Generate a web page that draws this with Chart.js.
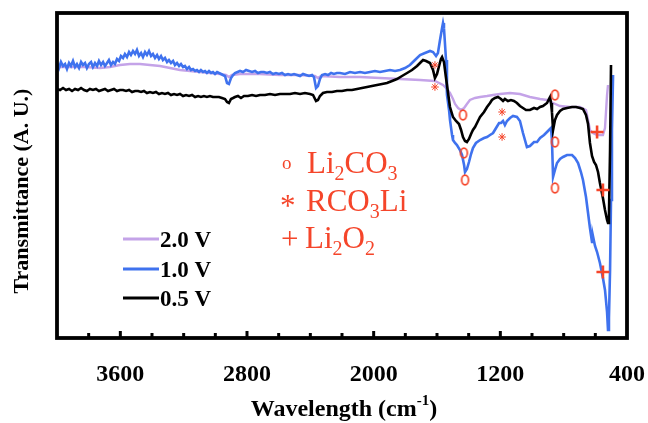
<!DOCTYPE html>
<html>
<head>
<meta charset="utf-8">
<script src="https://cdn.jsdelivr.net/npm/chart.js@4.4.1/dist/chart.umd.min.js"></script>
<style>
html, body { margin: 0; padding: 0; background: #fff; }
</style>
</head>
<body>
<canvas id="chart" width="648" height="423"></canvas>
<script>
// Spektra FTIR (wavenumber cm-1, transmittance A.U.)
const blueWn = [4000,3987,3975,3962,3949,3937,3924,3912,3899,3886,3874,3861,3848,3836,3823,3811,3798,3785,3773,3760,
  3747,3735,3722,3709,3697,3684,3672,3659,3646,3634,3621,3608,3596,3583,3571,3558,3545,3533,3520,3507,
  3495,3482,3469,3457,3444,3432,3419,3406,3394,3381,3368,3356,3343,3331,3318,3305,3293,3280,3267,3255,
  3242,3229,3217,3204,3192,3179,3166,3154,3141,3128,3116,3103,3091,3078,3065,3053,3040,3027,3015,3002,
  2989,2977,2964,2952,2939,2926,2914,2901,2888,2876,
  2844,2825,2806,2787,2768,2749,2731,2712,2693,2674,2655,2636,2617,2598,2579,2560,2541,2522,2503,2484,
  2465,2446,2427,2408,2389,2377,2364,2352,2339,2326,2307,2288,2269,2251,2232,2213,2181,2149,2118,2086,
  2055,2023,1992,1960,1928,1897,1865,1834,1802,1771,1739,1707,1676,1644,1625,1606,1594,1581,1568,1562,
  1556,1543,1537,1524,1518,1505,1499,1486,1474,1455,1442,1429,1423,1411,1398,1385,1373,1354,1328,1303,
  1284,1265,1246,1227,1208,1196,1183,1171,1158,1139,1120,1095,1076,1057,1032,1013,987,968,949,924,
  899,880,874,867,855,842,823,804,779,747,728,709,691,678,659,646,634,621,615,602,
  589,571,552,539,526,520,514,507,501,495,488];
const blueVal = [275,270,276,272,274,269,275,272,277,271,274,270,276,273,275,270,274,276,271,275,
  272,277,273,276,272,275,278,273,276,274,279,277,282,280,284,281,286,283,287,284,
  288,282,285,281,286,283,287,282,284,280,283,279,282,278,280,276,278,275,277,273,
  275,272,274,271,272,269,271,268,269,267,268,266,268,266,267,265,267,265,266,264,
  266,265,264,263,262,255,254,260,263,265,
  267,266,268,267,266,267,265,266,266,265,266,264,265,264,265,263,264,263,264,263,
  262,264,263,262,263,261,250,252,259,263,264,263,265,264,265,265,264,266,265,266,
  265,266,267,266,267,268,267,268,270,273,278,283,285,287,286,282,285,298,310,315,
  310,278,243,228,218,203,198,195,193,188,183,173,166,169,176,184,190,195,198,200,
  201,203,205,210,215,215,217,213,217,220,222,221,217,205,191,192,196,196,200,203,
  207,210,198,161,168,175,179,181,183,183,180,175,166,158,141,125,110,96,102,92,
  86,75,60,48,26,8,20,68,138,208,263];

const blackWn = [4000,3981,3962,3943,3924,3905,3886,3867,3848,3829,3811,3792,3773,3754,3735,3716,3697,3678,3659,3640,
  3621,3602,3583,3564,3545,3526,3507,3488,3469,3451,3432,3413,3394,3375,3356,3337,3318,3299,3280,3261,
  3242,3223,3204,3185,3166,3147,3128,3109,3091,3072,3053,3034,3015,2996,2977,2958,2939,
  2926,2914,2901,2888,2876,2857,2838,2819,2794,2768,2743,2718,2686,2655,2623,2592,2560,2528,2497,2465,
  2434,2402,2383,2364,2352,2339,2320,2295,2263,2232,2200,2168,2137,2105,2074,2042,2011,1979,1947,1916,
  1884,1853,1821,1789,1758,1726,1701,1688,1669,1644,1625,1613,1600,1587,1575,1568,1556,1543,1531,1518,
  1499,1480,1461,1448,1436,1423,1411,1398,1385,1373,1360,1341,1328,1303,1284,1265,1253,1234,1215,1196,
  1183,1171,1152,1133,1114,1095,1076,1057,1038,1013,987,968,949,931,905,893,886,880,874,867,
  855,842,823,804,779,747,722,697,678,659,646,634,621,608,596,583,571,552,539,526,
  520,514,507,501];
const blackVal = [249,248,250,248,249,247,249,248,250,248,247,249,248,249,247,248,249,247,248,249,
  247,248,248,247,248,246,247,247,246,247,245,246,245,246,244,245,244,245,243,244,
  243,244,242,243,242,243,241,242,241,242,241,242,241,241,241,240,239,
  236,235,239,240,241,242,240,242,242,243,242,243,243,244,243,244,244,244,245,244,
  245,244,243,237,238,242,245,246,246,247,247,248,248,249,250,251,252,253,254,255,
  257,259,262,265,268,272,276,278,277,275,268,260,264,272,279,281,276,260,246,231,
  221,217,214,208,201,197,196,199,204,208,211,217,221,226,231,235,238,240,241,239,
  237,239,237,238,237,235,232,230,228,228,230,229,231,232,235,239,241,235,226,208,
  218,223,227,229,230,231,231,230,229,223,214,195,182,176,173,166,155,140,128,118,
  115,123,188,273];

const lilacWn = [4000,3918,3823,3728,3665,3602,3539,3476,3413,3349,3286,3223,3160,3097,3034,2971,2933,2914,2895,2844,
  2718,2592,2465,2371,2352,2333,2213,2086,1960,1834,1707,1613,1562,1537,1518,1499,1486,1467,1448,1429,
  1411,1392,1360,1328,1284,1246,1202,1139,1076,1013,949,905,867,823,760,697,659,646,634,615,
  589,552,539,526,520];
const lilacVal = [271,271,271,270,271,273,274,274,273,272,270,268,267,266,265,264,263,261,263,264,
  264,263,263,262,260,262,261,261,260,259,258,257,253,249,245,239,234,230,228,230,
  234,238,240,241,242,243,244,245,244,241,239,238,235,232,231,231,228,218,208,205,
  203,203,210,243,253];

// Znaczniki pasm
const circleWn = [1436, 1430, 1423, 855, 855, 855];
const circleVal = [223, 185, 158, 243, 196, 150];
const starWn = [1613, 1613, 1189, 1189];
const starVal = [273, 251, 226, 201];
const plusWn = [589, 552, 552];
const plusVal = [206, 148, 66];

const tickValues = [3600, 2800, 2000, 1200, 400];
const minorTicks = [3800, 3600, 3400, 3200, 3000, 2800, 2600, 2400, 2200, 2000, 1800, 1600, 1400, 1200, 1000, 800, 600];
const majorTicks = [3600, 2800, 2000, 1200];

const seriesLabels = ['2.0 V', '1.0 V', '0.5 V'];
const seriesColors = ['#c4a3e8', '#3f72ee', '#000000'];
const red = '#f5452a';

function pairs(xs, ys) {
    return xs.map((x, i) => ({ x: x, y: ys[i] }));
}

// Owal jako znacznik
const ovalImg = document.createElement('canvas');
ovalImg.width = 11;
ovalImg.height = 14;
const oc = ovalImg.getContext('2d');
oc.strokeStyle = red;
oc.lineWidth = 1.7;
oc.beginPath();
oc.ellipse(5.5, 7, 3.4, 4.9, 0, 0, Math.PI * 2);
oc.stroke();

function drawRich(ctx, parts, x, y, size) {
    for (const [txt, sub] of parts) {
        ctx.font = (sub ? Math.round(size * 0.66) : size) + 'px "Liberation Serif"';
        ctx.fillText(txt, x, sub ? y + 7 : y);
        x += ctx.measureText(txt).width;
    }
}

const decor = {
    id: 'decor',
    afterDraw(chart) {
        const { ctx, chartArea: a } = chart;
        const xs = chart.scales.x;
        ctx.save();

        // Ticki na dolnej ramce
        ctx.strokeStyle = '#000';
        ctx.lineWidth = 3;
        minorTicks.forEach(v => {
            const px = xs.getPixelForValue(v);
            const len = majorTicks.includes(v) ? 7 : 5;
            ctx.beginPath();
            ctx.moveTo(px, a.bottom);
            ctx.lineTo(px, a.bottom - len);
            ctx.stroke();
        });

        // Ramka
        ctx.lineWidth = 3.8;
        ctx.strokeRect(a.left, a.top, a.right - a.left, a.bottom - a.top);

        // Legenda
        const rowsY = [239, 269, 298];
        ctx.textBaseline = 'alphabetic';
        ctx.font = 'bold 23px "Liberation Serif"';
        seriesLabels.forEach((lab, i) => {
            ctx.strokeStyle = seriesColors[i];
            ctx.lineWidth = 3;
            ctx.beginPath();
            ctx.moveTo(123, rowsY[i]);
            ctx.lineTo(159, rowsY[i]);
            ctx.stroke();
            ctx.fillStyle = '#000';
            ctx.fillText(lab, 160, rowsY[i] + 8);
        });

        // Opisy pasm
        ctx.fillStyle = red;
        ctx.font = '19px "Liberation Serif"';
        ctx.fillText('o', 282, 169);
        ctx.font = '31px "Liberation Serif"';
        ctx.fillText('*', 280, 216);
        ctx.fillText('+', 281, 249);
        drawRich(ctx, [['Li', 0], ['2', 1], ['CO', 0], ['3', 1]], 307, 173, 31);
        drawRich(ctx, [['RCO', 0], ['3', 1], ['Li', 0]], 306, 211, 31);
        drawRich(ctx, [['Li', 0], ['2', 1], ['O', 0], ['2', 1]], 305, 248, 31);

        // Tytuly osi
        ctx.fillStyle = '#000';
        ctx.font = 'bold 24px "Liberation Serif"';
        const t1 = 'Wavelength (cm';
        const sup = '-1';
        const t2 = ')';
        const w1 = ctx.measureText(t1).width;
        const w2 = ctx.measureText(t2).width;
        ctx.font = 'bold 15px "Liberation Serif"';
        const ws = ctx.measureText(sup).width;
        let tx = 344 - (w1 + ws + w2) / 2;
        ctx.font = 'bold 24px "Liberation Serif"';
        ctx.fillText(t1, tx, 416);
        tx += w1;
        ctx.font = 'bold 15px "Liberation Serif"';
        ctx.fillText(sup, tx, 405);
        tx += ws;
        ctx.font = 'bold 24px "Liberation Serif"';
        ctx.fillText(t2, tx, 416);

        ctx.translate(28, 191);
        ctx.rotate(-Math.PI / 2);
        ctx.textAlign = 'center';
        ctx.font = 'bold 22px "Liberation Serif"';
        ctx.fillText('Transmittance (A. U.)', 0, 0);
        ctx.restore();
    }
};

new Chart(document.getElementById('chart'), {
    type: 'line',
    data: {
        datasets: [
            { label: seriesLabels[2], data: pairs(blackWn, blackVal), borderColor: seriesColors[2], borderWidth: 2.6, order: 1 },
            { label: seriesLabels[1], data: pairs(blueWn, blueVal), borderColor: seriesColors[1], borderWidth: 2.6, order: 2 },
            { label: seriesLabels[0], data: pairs(lilacWn, lilacVal), borderColor: seriesColors[0], borderWidth: 2.4, order: 3 },
            { label: 'Li2CO3', data: pairs(circleWn, circleVal), showLine: false, pointStyle: ovalImg, pointRadius: 5, order: 0 },
            { label: 'RCO3Li', data: pairs(starWn, starVal), showLine: false, pointStyle: 'star', pointRadius: 3.8,
              borderColor: red, pointBorderColor: red, pointBorderWidth: 1, order: 0 },
            { label: 'Li2O2', data: pairs(plusWn, plusVal), showLine: false, pointStyle: 'cross', pointRadius: 6.5,
              borderColor: red, pointBorderColor: red, pointBorderWidth: 2.6, order: 0 }
        ]
    },
    options: {
        responsive: false,
        animation: false,
        events: [],
        layout: { padding: { left: 57, right: 21, top: 13, bottom: 0 } },
        elements: { point: { radius: 0 }, line: { tension: 0 } },
        plugins: { legend: { display: false }, tooltip: { enabled: false } },
        scales: {
            x: {
                type: 'linear',
                reverse: true,
                min: 400,
                max: 4000,
                grid: { display: false },
                border: { display: false },
                afterBuildTicks: s => { s.ticks = tickValues.map(v => ({ value: v })); },
                afterFit: s => {
                    s.height = 85;
                    s.paddingLeft = 0;
                    s.paddingRight = 0;
                },
                ticks: {
                    padding: 14,
                    autoSkip: false,
                    maxRotation: 0,
                    color: '#000',
                    callback: v => String(v),
                    font: { family: 'Liberation Serif', size: 24, weight: 'bold' }
                }
            },
            y: { display: false, min: 0, max: 325 }
        }
    },
    plugins: [decor]
});
</script>
</body>
</html>
